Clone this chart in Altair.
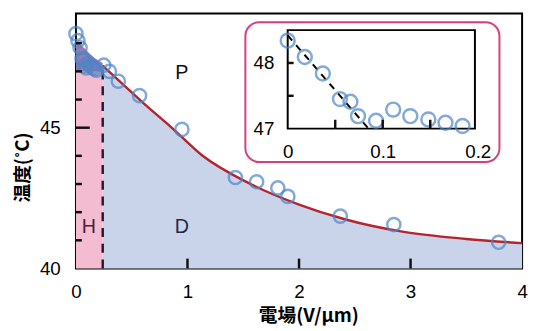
import altair as alt
import pandas as pd

# ---- data ----
field_pts = [0.0, 0.018, 0.037, 0.055, 0.066, 0.074, 0.093, 0.111, 0.129, 0.148, 0.166, 0.184,
             0.25, 0.30, 0.38, 0.57, 0.95, 1.43, 1.62, 1.81, 1.90, 2.37, 2.85, 3.79]
temp_pts = [48.34, 48.09, 47.84, 47.45, 47.41, 47.19, 47.12, 47.29, 47.19, 47.14, 47.09, 47.04,
            47.22, 47.00, 46.65, 46.14, 44.94, 43.23, 43.08, 42.86, 42.56, 41.86, 41.56, 40.93]
n_inset = 12

curve_e = [0.24, 0.40, 0.60, 0.87, 1.13, 1.55, 2.00, 2.41, 2.94, 3.50, 4.00]
curve_t = [47.20, 46.62, 45.89, 44.96, 44.02, 43.03, 42.27, 41.75, 41.30, 41.05, 40.90]

h_e = [0.0, 0.24]
h_top = [47.0, 47.0]
hp_e = [0.0, 0.08, 0.16, 0.24]
hp_top = [48.1, 47.8, 47.5, 47.3]

hd_e = [0.24, 0.24]
hd_t = [40.0, 47.2]

inset_dash_e = [0.0, 0.085]
inset_dash_t = [48.42, 47.0]

lab_text = ["P", "H", "D"]
lab_e = [0.95, 0.115, 0.95]
lab_t = [46.93, 41.47, 41.47]
lab_col = ["#111111", "#4e1f3c", "#1f2a4d"]

# tick values
x_ticks = [1, 2, 3]
x_labels = [0, 1, 2, 3, 4]
y_minor_ticks = [41, 42, 43, 44, 46, 47, 48]
y_major_ticks = [45]
y_labels = [40, 45]
ix_ticks = [0.05, 0.1, 0.15]
ix_labels = [0, 0.1, 0.2]
iy_ticks = [47.5, 48]
iy_labels = [47, 48]

FONT = "Liberation Sans"
CJK = "Noto Sans CJK JP"
W, H = 453, 259
X_DOM = [0, 4]
Y_DOM = [40, 49.06]
IX_DOM = [0, 0.2]
IX_RANGE = [215, 408]
IY_DOM = [47, 48.5]
IY_RANGE = [117, 17]

xs = alt.Scale(domain=X_DOM, range=[0, W], nice=False, zero=False)
ys = alt.Scale(domain=Y_DOM, range=[H, 0], nice=False, zero=False)

# pixel -> data-unit conversion for tick lengths
px_x = W / (X_DOM[1] - X_DOM[0])
px_y = H / (Y_DOM[1] - Y_DOM[0])
ipx_x = (IX_RANGE[1] - IX_RANGE[0]) / (IX_DOM[1] - IX_DOM[0])
ipx_y = (IY_RANGE[0] - IY_RANGE[1]) / (IY_DOM[1] - IY_DOM[0])

common = dict(domain=False, grid=False, ticks=False, labelFlush=False, labelFont=FONT,
              labelFontSize=19, labelColor="black", zindex=2)

x_axis = alt.Axis(values=x_labels, format="d", labelPadding=14, title="電場(V/μm)",
                  titleFont=CJK, titleFontSize=19, titleFontWeight="bold", titleColor="black",
                  titlePadding=6, titleX=236, **common)
y_axis = alt.Axis(orient="left", values=y_labels, format="d", labelPadding=16,
                  title="温度(˚C)", titleFont=CJK, titleFontSize=19, titleFontWeight="bold",
                  titleColor="black", titlePadding=7, titleY=156, **common)

pts = pd.DataFrame({"e": field_pts, "t": temp_pts})
curve = pd.DataFrame({"e": curve_e, "t": curve_t})

blue = alt.Chart(curve).mark_area(color="#c9d3ea", interpolate="monotone").encode(
    x=alt.X("e:Q", scale=xs, axis=x_axis),
    y=alt.Y("t:Q", scale=ys, axis=y_axis),
    y2=alt.datum(Y_DOM[0]),
)
pink = alt.Chart(pd.DataFrame({"e": h_e, "t": h_top})).mark_area(color="#f4bcd0").encode(
    x=alt.X("e:Q", scale=xs), y=alt.Y("t:Q", scale=ys), y2=alt.datum(Y_DOM[0]))
purple = alt.Chart(pd.DataFrame({"e": hp_e, "t": hp_top})).mark_area(
    color="#9a78b6", interpolate="monotone").encode(
    x=alt.X("e:Q", scale=xs), y=alt.Y("t:Q", scale=ys), y2=alt.datum(47.0))
hd = alt.Chart(pd.DataFrame({"e": hd_e, "t": hd_t})).mark_line(
    color="#2b1a33", strokeWidth=2.5, strokeDash=[9, 7]).encode(
    x=alt.X("e:Q", scale=xs), y=alt.Y("t:Q", scale=ys))
red = alt.Chart(curve).mark_line(color="#b3262e", strokeWidth=2.5, interpolate="monotone").encode(
    x=alt.X("e:Q", scale=xs), y=alt.Y("t:Q", scale=ys))
circles = alt.Chart(pts).mark_point(shape="circle", filled=False, size=180, strokeWidth=2.5,
                                    color="#4f86c6").encode(
    x=alt.X("e:Q", scale=xs), y=alt.Y("t:Q", scale=ys))
labels = alt.Chart(pd.DataFrame({"e": lab_e, "t": lab_t, "s": lab_text, "c": lab_col})).mark_text(
    font=FONT, fontSize=20).encode(
    x=alt.X("e:Q", scale=xs), y=alt.Y("t:Q", scale=ys), text="s:N",
    color=alt.Color("c:N", scale=None))
box = alt.Chart(pd.DataFrame({"a": [0]})).mark_rect(
    fill="white", stroke="#d6407f", strokeWidth=2, cornerRadius=14).encode(
    x=alt.datum(1.519, scale=xs), x2=alt.datum(3.797),
    y=alt.datum(48.745, scale=ys), y2=alt.datum(43.78))

# inward ticks of the main frame
xt = alt.Chart(pd.DataFrame({"e": x_ticks})).transform_calculate(
    t0=str(Y_DOM[0]), t1=f"{Y_DOM[0]} + {10 / px_y}").mark_rule(
    color="#111111", strokeWidth=2.5).encode(
    x=alt.X("e:Q", scale=xs), y=alt.Y("t0:Q", scale=ys), y2="t1:Q")
ytm = alt.Chart(pd.DataFrame({"t": y_minor_ticks})).transform_calculate(
    e0=str(X_DOM[0]), e1=f"{X_DOM[0]} + {6 / px_x}").mark_rule(
    color="#111111", strokeWidth=2.5).encode(
    y=alt.Y("t:Q", scale=ys), x=alt.X("e0:Q", scale=xs), x2="e1:Q")
ytM = alt.Chart(pd.DataFrame({"t": y_major_ticks})).transform_calculate(
    e0=str(X_DOM[0]), e1=f"{X_DOM[0]} + {14 / px_x}").mark_rule(
    color="#111111", strokeWidth=2.5).encode(
    y=alt.Y("t:Q", scale=ys), x=alt.X("e0:Q", scale=xs), x2="e1:Q")

main = alt.layer(blue, pink, purple, hd, red, labels, box, circles, xt, ytm, ytM)

# ---- inset ----
ix = alt.Scale(domain=IX_DOM, range=IX_RANGE, nice=False, zero=False)
iy = alt.Scale(domain=IY_DOM, range=IY_RANGE, nice=False, zero=False)

ix_axis = alt.Axis(orient="bottom", values=ix_labels, offset=IY_RANGE[0] - H, labelPadding=14,
                   labelExpr="datum.value < 0.01 ? '0' : format(datum.value, '.1f')",
                   title=None, **common)
iy_axis = alt.Axis(orient="left", values=iy_labels, format="d", offset=-IX_RANGE[0],
                   labelPadding=14, title=None, **common)

ipts = pts.iloc[:n_inset]
iframe = alt.Chart(pd.DataFrame({"a": [0]})).mark_rect(
    fill=None, stroke="black", strokeWidth=2).encode(
    x=alt.datum(0, scale=ix, axis=ix_axis), x2=alt.datum(0.197),
    y=alt.datum(47, scale=iy, axis=iy_axis), y2=alt.datum(48.5))
idash = alt.Chart(pd.DataFrame({"e": inset_dash_e, "t": inset_dash_t})).mark_line(
    color="black", strokeWidth=2, strokeDash=[7, 6]).encode(
    x=alt.X("e:Q", scale=ix), y=alt.Y("t:Q", scale=iy))
icircles = alt.Chart(ipts).mark_point(shape="circle", filled=False, size=200, strokeWidth=2.5,
                                      color="#4f86c6").encode(
    x=alt.X("e:Q", scale=ix), y=alt.Y("t:Q", scale=iy))
ixt = alt.Chart(pd.DataFrame({"e": ix_ticks})).transform_calculate(
    t0=str(IY_DOM[0]), t1=f"{IY_DOM[0]} + {9 / ipx_y}").mark_rule(
    color="#111111", strokeWidth=2.5).encode(
    x=alt.X("e:Q", scale=ix), y=alt.Y("t0:Q", scale=iy), y2="t1:Q")
iyt = alt.Chart(pd.DataFrame({"t": iy_ticks})).transform_calculate(
    e0=str(IX_DOM[0]), e1=f"{IX_DOM[0]} + {6 / ipx_x}").mark_rule(
    color="#111111", strokeWidth=2.5).encode(
    y=alt.Y("t:Q", scale=iy), x=alt.X("e0:Q", scale=ix), x2="e1:Q")

inset = alt.layer(iframe, idash, icircles, ixt, iyt)

chart = alt.layer(main, inset).resolve_scale(x="independent", y="independent").resolve_axis(
    x="independent", y="independent").properties(
    width=W, height=H, autosize="none",
    padding={"left": 69, "top": 3, "right": 6, "bottom": 60},
).configure_view(stroke="black", strokeWidth=2)

chart.save("out.html", embed_options={"renderer": "svg", "actions": False})
